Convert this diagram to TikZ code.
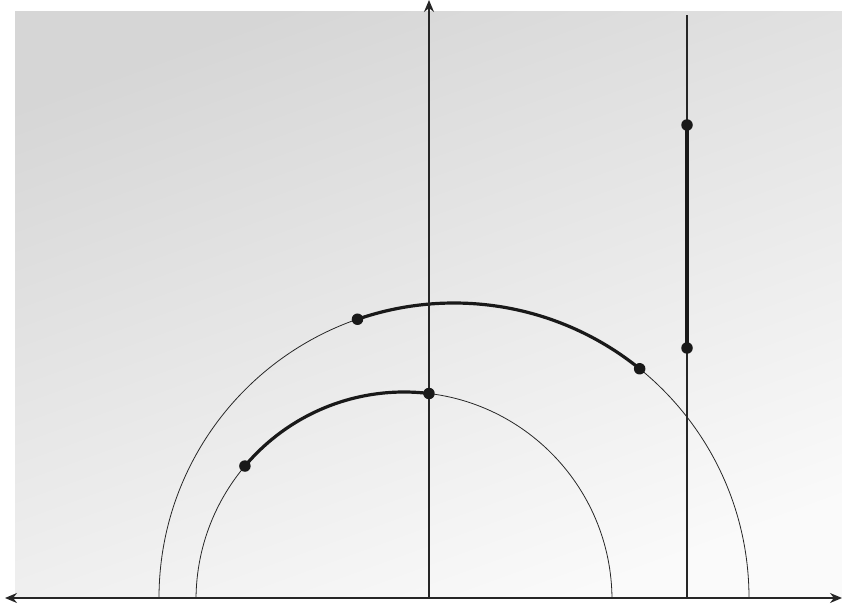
\documentclass[tikz,border=0pt]{standalone}
\usetikzlibrary{arrows.meta,calc}
\begin{document}
\begin{tikzpicture}[x=1pt,y=1pt,
  thin line/.style={line width=0.8pt, black!85},
  thick arc/.style={line width=3.2pt, black!90},
  axis line/.style={line width=1.4pt, black!85},
  axis tip/.style={Stealth[length=12pt,width=10pt]},
  dotmark/.style={circle, fill=black!90, inner sep=0pt, minimum size=11.5pt}]
\useasboundingbox (0,0) rectangle (842,606);
% background
\shade[top color=black!16, bottom color=black!2, shading angle=20] (15,8) rectangle (842,594);
% centres and points
\coordinate (co) at (454,8);
\coordinate (ci) at (404,6);
\coordinate (p1) at ($(co)+(109.1:295)$);
\coordinate (p2) at ($(co)+(51.0:295)$);
\coordinate (p3) at ($(ci)+(139.9:208)$);
\coordinate (p4) at ($(ci)+(83.1:208)$);
\coordinate (p5) at (687,481);
\coordinate (p6) at (687,258);
% circles (clipped at axis)
\begin{scope}
\clip (0,8) rectangle (842,606);
\draw[thin line] (co) circle[radius=295];
\draw[thin line] (ci) circle[radius=208];
\draw[thick arc] (p1) arc[start angle=109.1, end angle=51.0, radius=295];
\draw[thick arc] (p3) arc[start angle=139.9, end angle=83.1, radius=208];
\end{scope}
% axes
\coordinate (xl) at (5,8);
\coordinate (xr) at (842,8);
\coordinate (yb) at (429,8);
\coordinate (yt) at (429,606);
\coordinate (vb) at (687,8);
\coordinate (vt) at (687,591);
\draw[axis line, {Stealth[length=12pt,width=10pt]}-{Stealth[length=12pt,width=10pt]}] (xl) -- (xr);
\draw[axis line, -{Stealth[length=12pt,width=10pt]}] (yb) -- (yt);
\draw[axis line] (vb) -- (vt);
\draw[thick arc] (p5) -- (p6);
% dots
\node[dotmark] (d1) at (p1) {};
\node[dotmark] (d2) at (p2) {};
\node[dotmark] (d3) at (p3) {};
\node[dotmark] (d4) at (p4) {};
\node[dotmark] (d5) at (p5) {};
\node[dotmark] (d6) at (p6) {};
\end{tikzpicture}
\end{document}
